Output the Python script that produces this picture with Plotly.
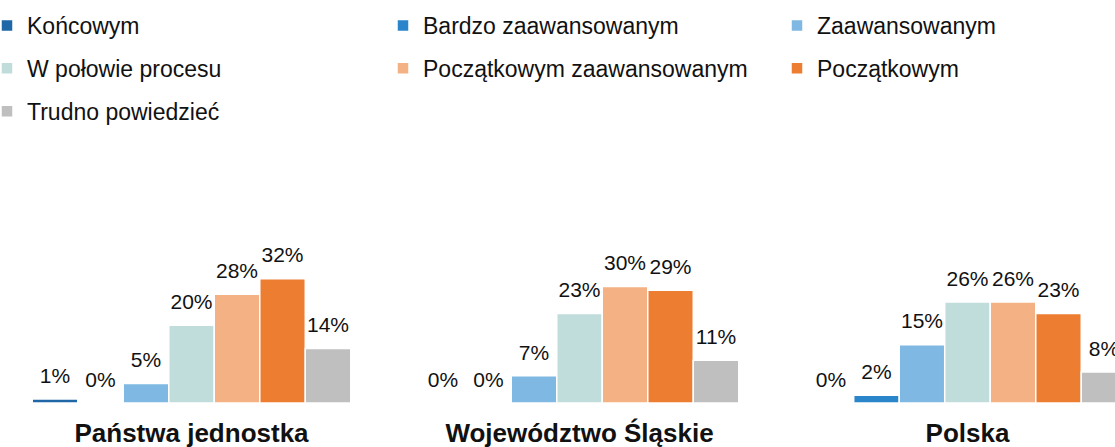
import plotly.graph_objects as go

categories = ["Państwa jednostka", "Województwo Śląskie", "Polska"]

series_names = [
    "Końcowym",
    "Bardzo zaawansowanym",
    "Zaawansowanym",
    "W połowie procesu",
    "Początkowym zaawansowanym",
    "Początkowym",
    "Trudno powiedzieć",
]

# share of answers, % (one list per series, in category order)
koncowym = [1, 0, 0]
bardzo_zaawansowanym = [0, 0, 2]
zaawansowanym = [5, 7, 15]
w_polowie = [20, 23, 26]
poczatkowym_zaawansowanym = [28, 30, 26]
poczatkowym = [32, 29, 23]
trudno = [14, 11, 8]

series_values = [
    koncowym,
    bardzo_zaawansowanym,
    zaawansowanym,
    w_polowie,
    poczatkowym_zaawansowanym,
    poczatkowym,
    trudno,
]

colors = ["#1F67A6", "#2A85CA", "#7EB8E3", "#C0DCDB", "#F4B183", "#ED7D31", "#BFBFBF"]

# legend column of each series (three columns, filled row by row)
legend_ids = ["legend", "legend2", "legend3", "legend", "legend2", "legend3", "legend"]

FONT = "Liberation Sans, Arial, sans-serif"
W, H = 1115, 447
M_TOP, M_BOT = 150, 44
PLOT_H = H - M_TOP - M_BOT
GAP = 0.179

fig = go.Figure()
for i, (name, vals) in enumerate(zip(series_names, series_values)):
    fig.add_trace(go.Bar(
        x=categories,
        y=vals,
        name=name,
        legend=legend_ids[i],
        legendgroup=f"g{i}",
        marker=dict(color=colors[i], line=dict(color="white", width=1.5)),
        hovertemplate=f"<b>{name}</b><br>%{{x}}: %{{y}}%<extra></extra>",
    ))

# value labels, grouped the same way as the bars so they sit above each one
for i, vals in enumerate(series_values):
    fig.add_trace(go.Scatter(
        x=categories,
        y=vals,
        mode="markers+text",
        marker=dict(size=16, opacity=0),
        text=[f"{v}%" for v in vals],
        textposition="top center",
        textfont=dict(family=FONT, size=21, color="#111111"),
        cliponaxis=False,
        showlegend=False,
        legend=legend_ids[i],
        hoverinfo="skip",
    ))

legend_style = dict(
    orientation="v",
    xref="container",
    yref="paper",
    xanchor="left",
    yanchor="top",
    y=1 + (M_TOP - 4) / PLOT_H,
    indentation=-13,
    font=dict(family=FONT, size=23, color="#111111"),
    bgcolor="rgba(0,0,0,0)",
    tracegroupgap=10,
    itemclick=False,
)

fig.update_layout(
    width=W,
    height=H,
    margin=dict(l=0, r=0, t=M_TOP, b=M_BOT, autoexpand=False),
    barmode="group",
    bargap=GAP,
    bargroupgap=0,
    scattermode="group",
    scattergap=GAP,
    plot_bgcolor="white",
    paper_bgcolor="white",
    showlegend=True,
    legend=dict(legend_style, x=0),
    legend2=dict(legend_style, x=396 / W),
    legend3=dict(legend_style, x=790 / W),
    xaxis=dict(
        type="category",
        range=[-0.4936, 2.3802],
        automargin=False,
        showgrid=False,
        showline=False,
        zeroline=False,
        ticks="",
        ticklabelstandoff=12,
        tickfont=dict(family=FONT, size=26, color="#111111", weight="bold"),
    ),
    yaxis=dict(range=[0, 65.1], visible=False, automargin=False,
               showgrid=False, zeroline=False),
)

# drop the browser's default 8px body margin so the figure fills the window
fig.write_html(
    "out.html",
    config={"displayModeBar": False},
    post_script="document.body.style.margin='0';",
)
